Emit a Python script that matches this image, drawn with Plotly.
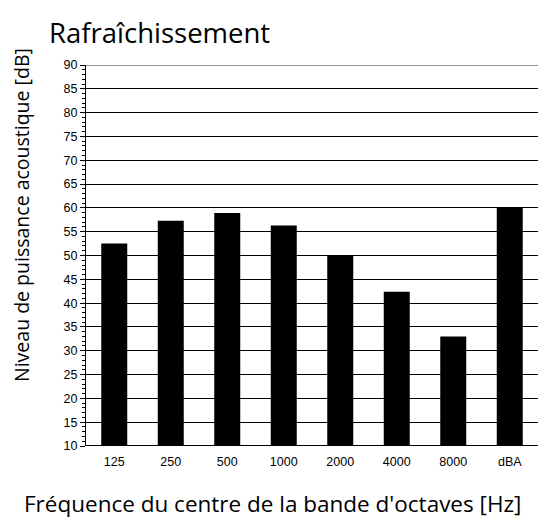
import plotly.graph_objects as go

categories = ["125", "250", "500", "1000", "2000", "4000", "8000", "dBA"]
values = [52.5, 57.3, 58.9, 56.3, 49.9, 42.4, 33.0, 60.1]

title_text = "Rafraîchissement"
x_title = "Fréquence du centre de la bande d'octaves [Hz]"
y_title = "Niveau de puissance acoustique [dB]"

# page has an 8px body margin, so the figure is sized 8px smaller
W, H = 545, 510
L, R, T, B = 78, 15, 57, 72
PW, PH = W - L - R, H - T - B

fig = go.Figure()
fig.add_trace(go.Bar(x=categories, y=values, marker=dict(color="black", line=dict(width=0)),
                     width=0.46))

fig.update_layout(
    width=W, height=H,
    margin=dict(l=L, r=R, t=T, b=B),
    plot_bgcolor="white", paper_bgcolor="white",
    showlegend=False,
    font=dict(family="Liberation Sans, Arial", size=12.5, color="black"),
)
fig.update_xaxes(
    type="category", showgrid=False, ticks="", showline=False,
    ticklabelstandoff=6,
    tickfont=dict(family="Liberation Sans, Arial", size=12.5, color="black"),
    zeroline=False,
)
fig.update_yaxes(
    range=[10, 90], dtick=5, tick0=10,
    showgrid=True, gridcolor="black", gridwidth=1,
    showline=True, linecolor="black", linewidth=1,
    ticks="outside", ticklen=5, tickcolor="black", tickwidth=1,
    minor=dict(dtick=1, ticks="outside", ticklen=3, tickcolor="black", showgrid=False),
    zeroline=False,
    tickfont=dict(family="Liberation Sans, Arial", size=12.5, color="black"),
)
# top gridline at 90 and thicker baseline at 10
fig.add_shape(type="line", xref="paper", yref="y", x0=0, x1=1, y0=90, y1=90,
              line=dict(color="#777777", width=1.5))
fig.add_shape(type="line", xref="paper", yref="y", x0=0, x1=1, y0=10, y1=10,
              line=dict(color="black", width=2))

fig.add_annotation(text=title_text, xref="paper", yref="paper", x=(39 - L) / PW, y=1.0,
                   yshift=33, xanchor="left", yanchor="middle", showarrow=False,
                   font=dict(family="Open Sans, Noto Sans", size=27.5, color="black"))
fig.add_annotation(text=x_title, xref="paper", yref="paper", x=(264.5 - L) / PW, y=0,
                   yshift=-57, xanchor="center", yanchor="middle", showarrow=False,
                   font=dict(family="Open Sans, Noto Sans", size=22.5, color="black"))
fig.add_annotation(text=y_title, xref="paper", yref="paper", x=0, xshift=-65,
                   y=(438 - 207) / PH, xanchor="center", yanchor="middle", showarrow=False,
                   textangle=-90, borderpad=0,
                   font=dict(family="Open Sans, Noto Sans", size=19.5, color="black"))

fig.write_html("out.html")
